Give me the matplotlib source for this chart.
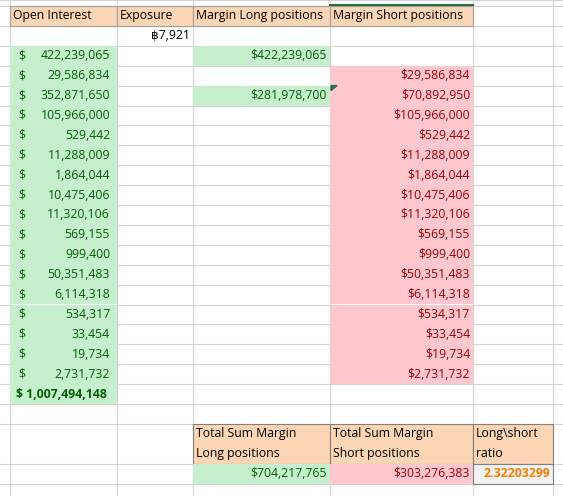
import matplotlib.pyplot as plt
from matplotlib.patches import Rectangle

headers = ['Open Interest', 'Exposure', 'Margin Long positions', 'Margin Short positions']
exposure = '\u0e3f7,921'
open_interest = ['422,239,065', '29,586,834', '352,871,650', '105,966,000', '529,442', '11,288,009',
                 '1,864,044', '10,475,406', '11,320,106', '569,155', '999,400', '50,351,483',
                 '6,114,318', '534,317', '33,454', '19,734', '2,731,732']
margin_long = ['$422,239,065', '', '$281,978,700'] + [''] * 14
margin_short = ['', '$29,586,834', '$70,892,950', '$105,966,000', '$529,442', '$11,288,009',
                '$1,864,044', '$10,475,406', '$11,320,106', '$569,155', '$999,400', '$50,351,483',
                '$6,114,318', '$534,317', '$33,454', '$19,734', '$2,731,732']
total_oi = '$ 1,007,494,148'
total_headers = ['Total Sum Margin\nLong positions', 'Total Sum Margin\nShort positions', 'Long\\short\nratio']
total_values = ['$704,217,765', '$303,276,383', '2.32203299']

ORANGE = '#FCD5B4'
GFILL, GTEXT = '#C6EFCE', '#006100'
RFILL, RTEXT = '#FFC7CE', '#9C0006'
GRID = '#D4D4D4'
FONT = ['Open Sans', 'DejaVu Sans']
FS = 8.8

cols = [-10, 10, 117, 193, 330, 473, 553, 640]
top, h = 6, 19.9

fig = plt.figure(figsize=(5.63, 4.96), dpi=100)
ax = fig.add_axes([0, 0, 1, 1])
ax.set_xlim(0, 563)
ax.set_ylim(496, 0)
ax.axis('off')

def ry(i):
    return top + i * h

# background grid
for x in cols:
    ax.plot([x, x], [0, 496], color=GRID, lw=0.8, zorder=1)
ax.plot([0, 563], [0, 0], color=GRID, lw=0.8)
for i in range(25):
    if i == 22:
        continue
    ax.plot([0, 563], [ry(i), ry(i)], color=GRID, lw=0.8, zorder=1)

def cell(c, r, fill=None, rows=1, edge=None):
    x0, x1 = cols[c], cols[c + 1]
    ax.add_patch(Rectangle((x0, ry(r)), x1 - x0, rows * h, facecolor=fill or 'none',
                           edgecolor=edge or 'none', lw=0.8, zorder=2))

def txt(x, y, s, color='black', ha='left', weight='normal'):
    ax.text(x, y, s, color=color, ha=ha, va='center', fontsize=FS, family=FONT,
            weight=weight, zorder=3, linespacing=1.7)

# header
for k, s in enumerate(headers):
    cell(k + 1, 0, ORANGE, edge='#A0A0A0')
    txt(cols[k + 1] + 3, ry(0.5), s)
ax.plot([cols[4], cols[5]], [ry(0) - 1, ry(0) - 1], color='#217346', lw=1.5, zorder=4)

txt(cols[3] - 3, ry(1.5), exposure, ha='right')

for i, v in enumerate(open_interest):
    r = i + 2
    cell(1, r, GFILL)
    txt(cols[1] + 8, ry(r + 0.5), '$', GTEXT)
    txt(cols[2] - 7, ry(r + 0.5), v, GTEXT, ha='right')
    if margin_long[i]:
        cell(3, r, GFILL)
        txt(cols[4] - 3, ry(r + 0.5), margin_long[i], GTEXT, ha='right')
    if margin_short[i]:
        cell(4, r, RFILL)
        txt(cols[5] - 3, ry(r + 0.5), margin_short[i], RTEXT, ha='right')

# comment marker
ax.add_patch(plt.Polygon([[331, ry(4)], [337, ry(4)], [331, ry(4) + 5]], color='#217346', zorder=4))

cell(1, 19, GFILL)
txt(cols[1] + 6, ry(19.5), total_oi, GTEXT, weight='bold')

for k, s in enumerate(total_headers):
    c = k + 3
    cell(c, 21, ORANGE, rows=2, edge='#7F7F7F')
    txt(cols[c] + 3, ry(22), s)
cell(3, 23, GFILL)
txt(cols[4] - 3, ry(23.5), total_values[0], GTEXT, ha='right')
cell(4, 23, RFILL)
txt(cols[5] - 3, ry(23.5), total_values[1], RTEXT, ha='right')
cell(5, 23, '#F2F2F2', edge='#7F7F7F')
txt(cols[6] - 3, ry(23.5), total_values[2], '#FA7D00', ha='right', weight='bold')

fig.savefig('out.png', dpi=100)
